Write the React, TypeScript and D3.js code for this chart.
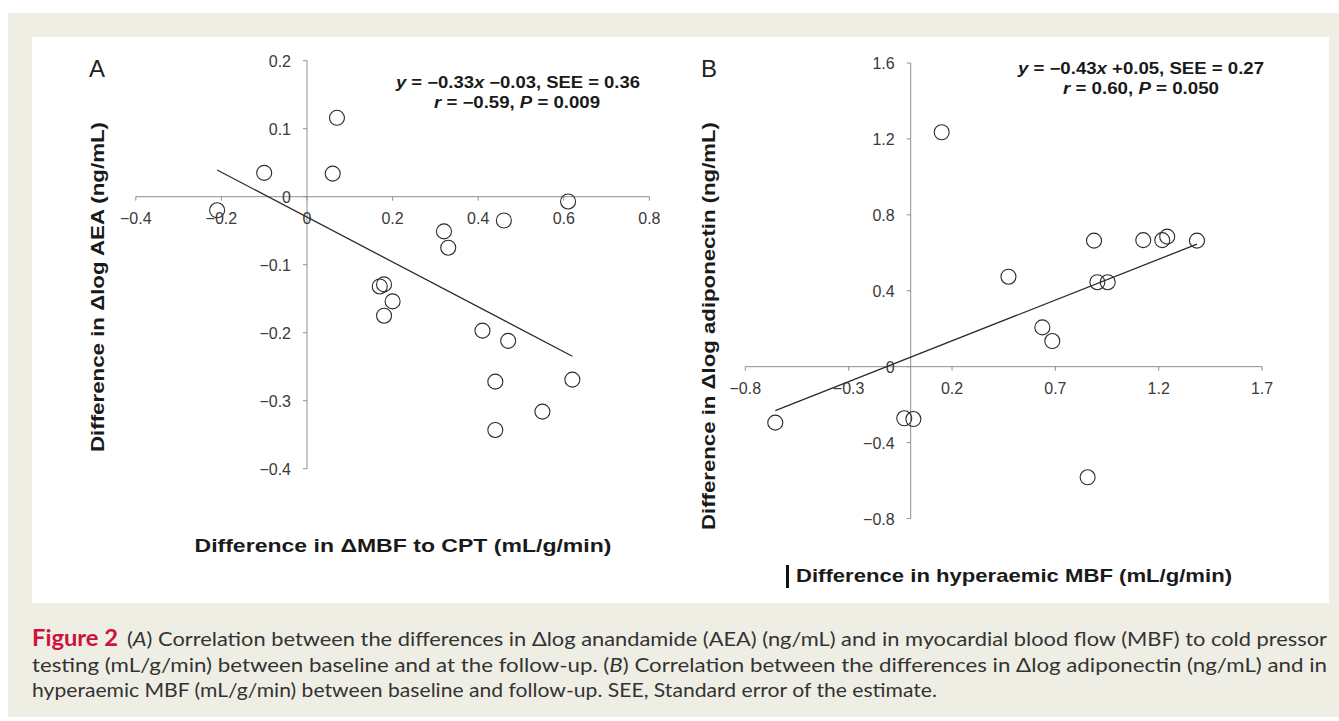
import * as d3 from "d3";

// Panel A: difference in ΔMBF to CPT vs difference in Δlog AEA
const aX = [-0.21, -0.1, 0.07, 0.06, 0.61, 0.46, 0.32, 0.33, 0.17, 0.18, 0.2, 0.18, 0.41, 0.47, 0.44, 0.62, 0.55, 0.44];
const aY = [-0.02, 0.035, 0.116, 0.034, -0.007, -0.035, -0.051, -0.075, -0.132, -0.129, -0.154, -0.175, -0.197, -0.212, -0.272, -0.269, -0.316, -0.343];
const aXTicks = [-0.4, -0.2, 0, 0.2, 0.4, 0.6, 0.8];
const aYTicks = [0.2, 0.1, 0, -0.1, -0.2, -0.3, -0.4];
const aFit = { slope: -0.33, intercept: -0.03 };

// Panel B: difference in hyperaemic MBF vs difference in Δlog adiponectin
const bX = [0.15, -0.655, -0.031, 0.013, 0.473, 0.903, 0.953, 0.637, 0.685, 0.856, 0.887, 1.125, 1.217, 1.241, 1.385];
const bY = [1.235, -0.295, -0.272, -0.276, 0.474, 0.445, 0.445, 0.207, 0.135, -0.583, 0.664, 0.667, 0.667, 0.685, 0.664];
const bXTicks = [-0.8, -0.3, 0.2, 0.7, 1.2, 1.7];
const bYTicks = [1.6, 1.2, 0.8, 0.4, 0, -0.4, -0.8];
const bFit = { slope: 0.43, intercept: 0.05 };

const W = 1339;
const H = 721;
const chartFont = "'Liberation Sans', Arial, sans-serif";
const captionFont = "Lato, 'Open Sans', sans-serif";
const axisColor = "#8f8f8f";
const inkColor = "#2b2b2b";

const fmt = (d: number) => (d === 0 ? "0" : d3.format(".1f")(d).replace("-", "\u2212"));

type PanelProps = {
  xs: number[];
  ys: number[];
  xTicks: number[];
  yTicks: number[];
  fit: { slope: number; intercept: number };
  x: d3.ScaleLinear<number, number>;
  y: d3.ScaleLinear<number, number>;
};

function Panel({ xs, ys, xTicks, yTicks, fit, x, y }: PanelProps) {
  const x0 = x(0);
  const y0 = y(0);
  const [xMin, xMax] = d3.extent(xs) as [number, number];
  const line = d3
    .line<number>()
    .x((d) => x(d))
    .y((d) => y(fit.slope * d + fit.intercept));
  return (
    <g>
      {/* axes crossing at zero */}
      <line x1={x.range()[0]} x2={x.range()[1]} y1={y0} y2={y0} stroke={axisColor} strokeWidth={1} />
      <line x1={x0} x2={x0} y1={y.range()[0]} y2={y.range()[1]} stroke={axisColor} strokeWidth={1} />
      {xTicks.map((t) => (
        <g key={"xt" + t}>
          <line x1={x(t)} x2={x(t)} y1={y0} y2={y0 + 4} stroke={axisColor} />
          <text x={x(t)} y={y0 + 27} textAnchor="middle" fontSize={16} fill="#3a3a3a" fontFamily={chartFont}>
            {fmt(t)}
          </text>
        </g>
      ))}
      {yTicks.map((t) => (
        <g key={"yt" + t}>
          <line x1={x0 - 4} x2={x0} y1={y(t)} y2={y(t)} stroke={axisColor} />
          <text x={x0 - 16} y={y(t) + 6} textAnchor="end" fontSize={16} fill="#3a3a3a" fontFamily={chartFont}>
            {fmt(t)}
          </text>
        </g>
      ))}
      <path d={line([xMin, xMax]) || ""} fill="none" stroke={inkColor} strokeWidth={1.3} />
      {xs.map((v, i) => (
        <circle key={i} cx={x(v)} cy={y(ys[i])} r={7.5} fill="none" stroke={inkColor} strokeWidth={1.1} />
      ))}
    </g>
  );
}

export default function App() {
  const xA = d3.scaleLinear().domain([-0.4, 0.8]).range([135.8, 649.4]);
  const yA = d3.scaleLinear().domain([-0.4, 0.2]).range([468.7, 60.7]);
  const xB = d3.scaleLinear().domain([-0.8, 1.7]).range([745.3, 1262.1]);
  const yB = d3.scaleLinear().domain([-0.8, 1.6]).range([518.5, 63.0]);

  const bold = { fontFamily: chartFont, fontWeight: 700, fill: "#1a1a1a" } as const;

  return (
    <svg
      width={W}
      height={H}
      style={{ position: "absolute", left: 0, top: 0, background: "#ffffff" }}
    >
      <rect x={8} y={13} width={W - 8} height={704} fill="#efeee4" />
      <rect x={32} y={37} width={1297} height={566} fill="#ffffff" />

      {/* Panel A */}
      <text x={97} y={77} textAnchor="middle" fontSize={24} fontFamily={chartFont} fill="#222">
        A
      </text>
      <Panel xs={aX} ys={aY} xTicks={aXTicks} yTicks={aYTicks} fit={aFit} x={xA} y={yA} />
      <text x={518} y={88} textAnchor="middle" fontSize={16} textLength={244} lengthAdjust="spacingAndGlyphs" {...bold}>
        <tspan fontStyle="italic">y</tspan> = {"\u2212"}0.33<tspan fontStyle="italic">x</tspan> {"\u2212"}0.03, SEE = 0.36
      </text>
      <text x={517} y={108} textAnchor="middle" fontSize={16} textLength={166} lengthAdjust="spacingAndGlyphs" {...bold}>
        <tspan fontStyle="italic">r</tspan> = {"\u2212"}0.59, <tspan fontStyle="italic">P</tspan> = 0.009
      </text>
      <text x={403} y={552} textAnchor="middle" fontSize={19} textLength={417} lengthAdjust="spacingAndGlyphs" {...bold}>
        Difference in {"\u0394"}MBF to CPT (mL/g/min)
      </text>
      <text
        transform="translate(104,287) rotate(-90)"
        textAnchor="middle"
        fontSize={19}
        textLength={330}
        lengthAdjust="spacingAndGlyphs"
        {...bold}
      >
        Difference in {"\u0394"}log AEA (ng/mL)
      </text>

      {/* Panel B */}
      <text x={709} y={77} textAnchor="middle" fontSize={24} fontFamily={chartFont} fill="#222">
        B
      </text>
      <Panel xs={bX} ys={bY} xTicks={bXTicks} yTicks={bYTicks} fit={bFit} x={xB} y={yB} />
      <text x={1141} y={74} textAnchor="middle" fontSize={16} textLength={246} lengthAdjust="spacingAndGlyphs" {...bold}>
        <tspan fontStyle="italic">y</tspan> = {"\u2212"}0.43<tspan fontStyle="italic">x</tspan> +0.05, SEE = 0.27
      </text>
      <text x={1141} y={94} textAnchor="middle" fontSize={16} textLength={156} lengthAdjust="spacingAndGlyphs" {...bold}>
        <tspan fontStyle="italic">r</tspan> = 0.60, <tspan fontStyle="italic">P</tspan> = 0.050
      </text>
      <rect x={786} y={565} width={3} height={23} fill="#111" />
      <text x={1014} y={582} textAnchor="middle" fontSize={19} textLength={436} lengthAdjust="spacingAndGlyphs" {...bold}>
        Difference in hyperaemic MBF (mL/g/min)
      </text>
      <text
        transform="translate(715,326) rotate(-90)"
        textAnchor="middle"
        fontSize={19}
        textLength={408}
        lengthAdjust="spacingAndGlyphs"
        {...bold}
      >
        Difference in {"\u0394"}log adiponectin (ng/mL)
      </text>

      {/* Caption */}
      <text x={32} y={646} fontSize={22} fontWeight={700} fill="#d0103f" fontFamily={captionFont} textLength={86} lengthAdjust="spacingAndGlyphs">
        Figure 2
      </text>
      <text x={127} y={646} fontSize={20} fill="#333" fontFamily={captionFont} textLength={1200} lengthAdjust="spacingAndGlyphs">
        (<tspan fontStyle="italic">A</tspan>) Correlation between the differences in {"\u0394"}log anandamide (AEA) (ng/mL) and in myocardial blood flow (MBF) to cold pressor
      </text>
      <text x={32} y={672} fontSize={20} fill="#333" fontFamily={captionFont} textLength={1295} lengthAdjust="spacingAndGlyphs">
        testing (mL/g/min) between baseline and at the follow-up. (<tspan fontStyle="italic">B</tspan>) Correlation between the differences in {"\u0394"}log adiponectin (ng/mL) and in
      </text>
      <text x={32} y={697} fontSize={20} fill="#333" fontFamily={captionFont} textLength={905} lengthAdjust="spacingAndGlyphs">
        hyperaemic MBF (mL/g/min) between baseline and follow-up. SEE, Standard error of the estimate.
      </text>
    </svg>
  );
}
